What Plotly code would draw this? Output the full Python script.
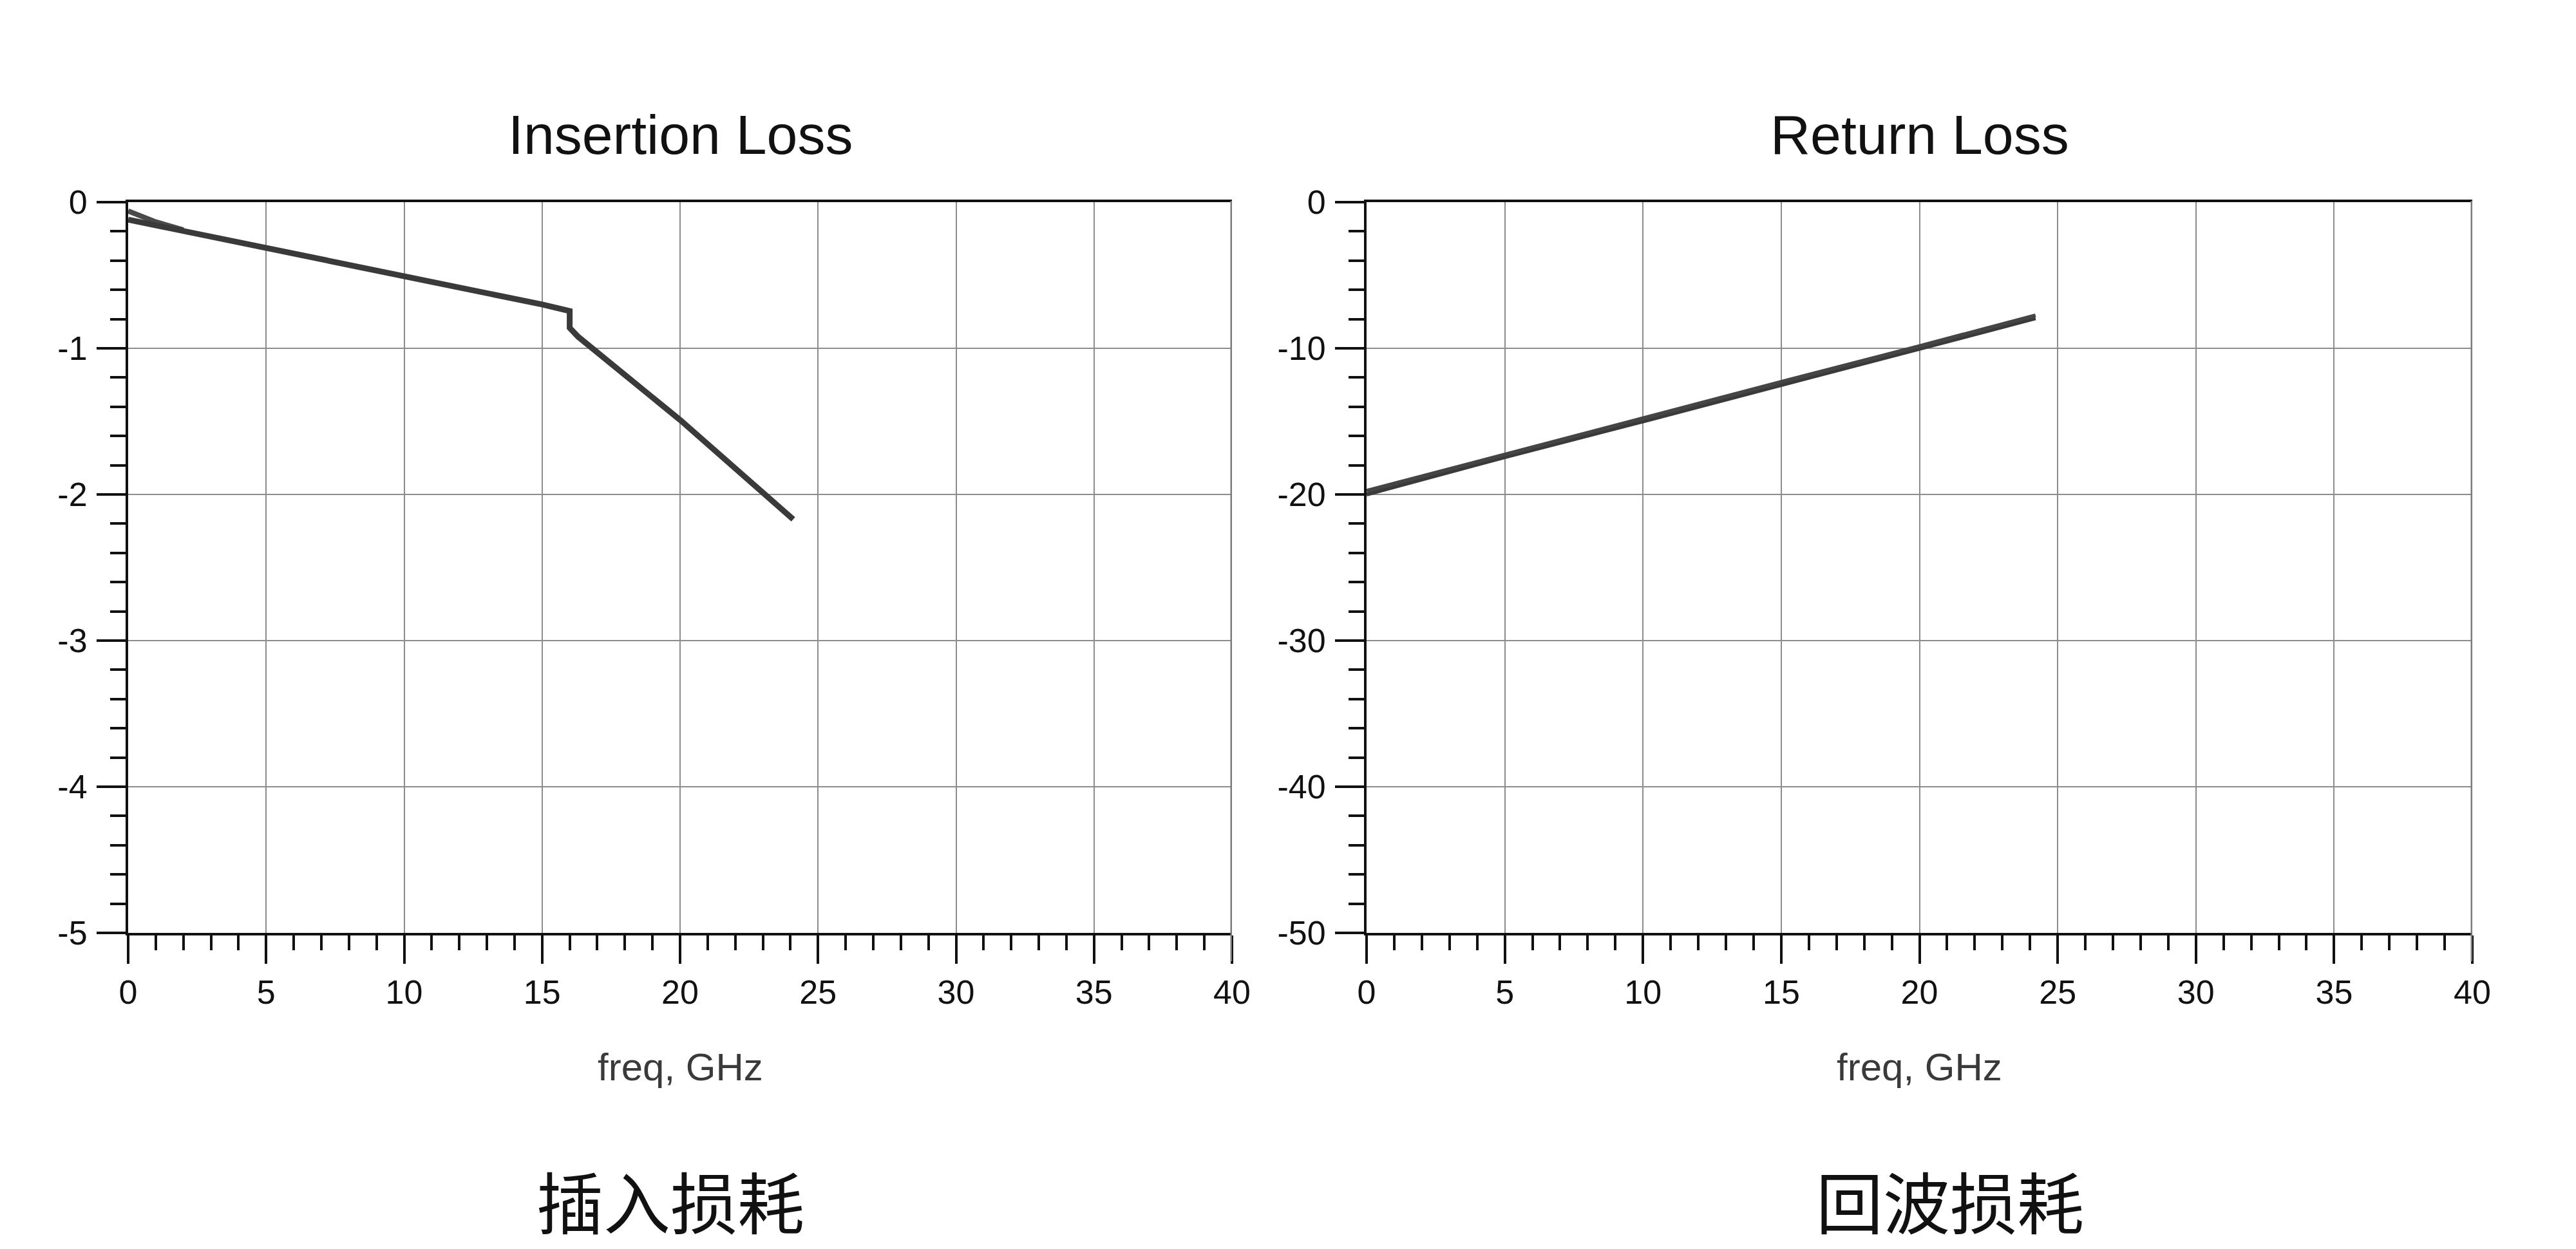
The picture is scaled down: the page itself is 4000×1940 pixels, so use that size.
import plotly.graph_objects as go

# ---------------- data ----------------
il_freq = [0, 5, 10, 15, 16.0, 16.0, 16.3, 20, 24.1]
il_s21 = [-0.12, -0.31, -0.51, -0.70, -0.745, -0.86, -0.92, -1.49, -2.17]
il_freq_b = [0, 1.0, 2.0]
il_s12 = [-0.06, -0.135, -0.19]

rl_freq = [0, 5, 10, 15, 20, 24.2]
rl_s11 = [-19.75, -17.25, -14.8, -12.3, -9.85, -7.75]
rl_s22 = [-20.0, -17.45, -15.0, -12.5, -10.05, -7.95]

x_ticks = [0, 5, 10, 15, 20, 25, 30, 35, 40]
il_ticks = [0, -1, -2, -3, -4, -5]
rl_ticks = [0, -10, -20, -30, -40, -50]

titles = ["Insertion Loss", "Return Loss"]
x_label = "freq, GHz"
cn_labels = ["插入损耗", "回波损耗"]

# ---------------- layout geometry ----------------
W, H = 4000, 1940
OFF = 8  # page body offset
LEFT_DOM = [(199 - OFF) / W, (1913 - OFF) / W]
RIGHT_DOM = [(2122 - OFF) / W, (3839 - OFF) / W]
Y_DOM = [1 - (1449 - OFF) / H, 1 - (314 - OFF) / H]


def py(y):
    return 1 - (y - OFF) / H


def px(x):
    return (x - OFF) / W


LINE_COLOR = "#3a3a3a"
GRID = "#8c8c8c"
FONT = "Liberation Sans, Arial, sans-serif"

fig = go.Figure()

fig.add_trace(go.Scatter(x=il_freq_b, y=il_s12, mode="lines", xaxis="x", yaxis="y",
                         line=dict(color="#4a4a4a", width=8), showlegend=False))
fig.add_trace(go.Scatter(x=il_freq, y=il_s21, mode="lines", xaxis="x", yaxis="y",
                         line=dict(color=LINE_COLOR, width=9), showlegend=False))
fig.add_trace(go.Scatter(x=rl_freq, y=rl_s22, mode="lines", xaxis="x2", yaxis="y2",
                         line=dict(color=LINE_COLOR, width=6), showlegend=False))
fig.add_trace(go.Scatter(x=rl_freq, y=rl_s11, mode="lines", xaxis="x2", yaxis="y2",
                         line=dict(color="#454545", width=6), showlegend=False))


def xaxis(domain, anchor):
    return dict(
        domain=domain, anchor=anchor, range=[0, 40], automargin=False,
        tickvals=x_ticks, ticktext=[str(v) for v in x_ticks],
        ticks="outside", ticklen=44, tickwidth=4, tickcolor="#111111",
        minor=dict(dtick=1, ticks="outside", ticklen=23, tickwidth=4,
                   tickcolor="#111111", showgrid=False),
        showline=True, linecolor="#111111", linewidth=4, mirror=True,
        showgrid=True, gridcolor=GRID, gridwidth=2,
        tickfont=dict(family=FONT, size=52, color="#111111"),
        zeroline=False, fixedrange=True,
    )


def yaxis(domain, anchor, rng, ticks, minor_dtick):
    return dict(
        domain=domain, anchor=anchor, range=rng, automargin=False,
        tickvals=ticks, ticktext=[str(v) for v in ticks],
        ticks="outside", ticklen=45, tickwidth=4, tickcolor="#111111",
        minor=dict(dtick=minor_dtick, ticks="outside", ticklen=24, tickwidth=4,
                   tickcolor="#111111", showgrid=False),
        showline=True, linecolor="#111111", linewidth=4,
        showgrid=True, gridcolor=GRID, gridwidth=2,
        tickfont=dict(family=FONT, size=52, color="#111111"),
        zeroline=False, fixedrange=True, ticklabelstandoff=4,
    )


fig.update_layout(
    template="none",
    width=W, height=H,
    margin=dict(l=0, r=0, t=0, b=0, pad=0, autoexpand=False),
    paper_bgcolor="white", plot_bgcolor="white",
    xaxis=xaxis(LEFT_DOM, "y"),
    yaxis=yaxis(Y_DOM, "x", [-5, 0], il_ticks, 0.2),
    xaxis2=xaxis(RIGHT_DOM, "y2"),
    yaxis2=yaxis(Y_DOM, "x2", [-50, 0], rl_ticks, 2),
    showlegend=False,
)

# gray right borders (x = 40), extending below like a major tick
for xr in ["x", "x2"]:
    fig.add_shape(type="line", xref=xr, yref="paper", x0=40, x1=40,
                  y0=py(1493), y1=py(312),
                  line=dict(color="#7a7a7a", width=5))

centers = [(LEFT_DOM[0] + LEFT_DOM[1]) / 2, (RIGHT_DOM[0] + RIGHT_DOM[1]) / 2]
cn_centers = [px(1041), px(3028)]
for i in range(2):
    fig.add_annotation(text=titles[i], xref="paper", yref="paper",
                       x=centers[i], y=py(209), xanchor="center", yanchor="middle",
                       showarrow=False, font=dict(family=FONT, size=86, color="#111111"))
    fig.add_annotation(text=x_label, xref="paper", yref="paper",
                       x=centers[i], y=py(1657), xanchor="center", yanchor="middle",
                       showarrow=False, font=dict(family=FONT, size=60, color="#3a3a3a"))
    fig.add_annotation(text=cn_labels[i], xref="paper", yref="paper",
                       x=cn_centers[i], y=py(1863), xanchor="center", yanchor="middle",
                       showarrow=False,
                       font=dict(family="Noto Sans CJK SC", size=104, color="#111111"))

fig.write_html("out.html")
